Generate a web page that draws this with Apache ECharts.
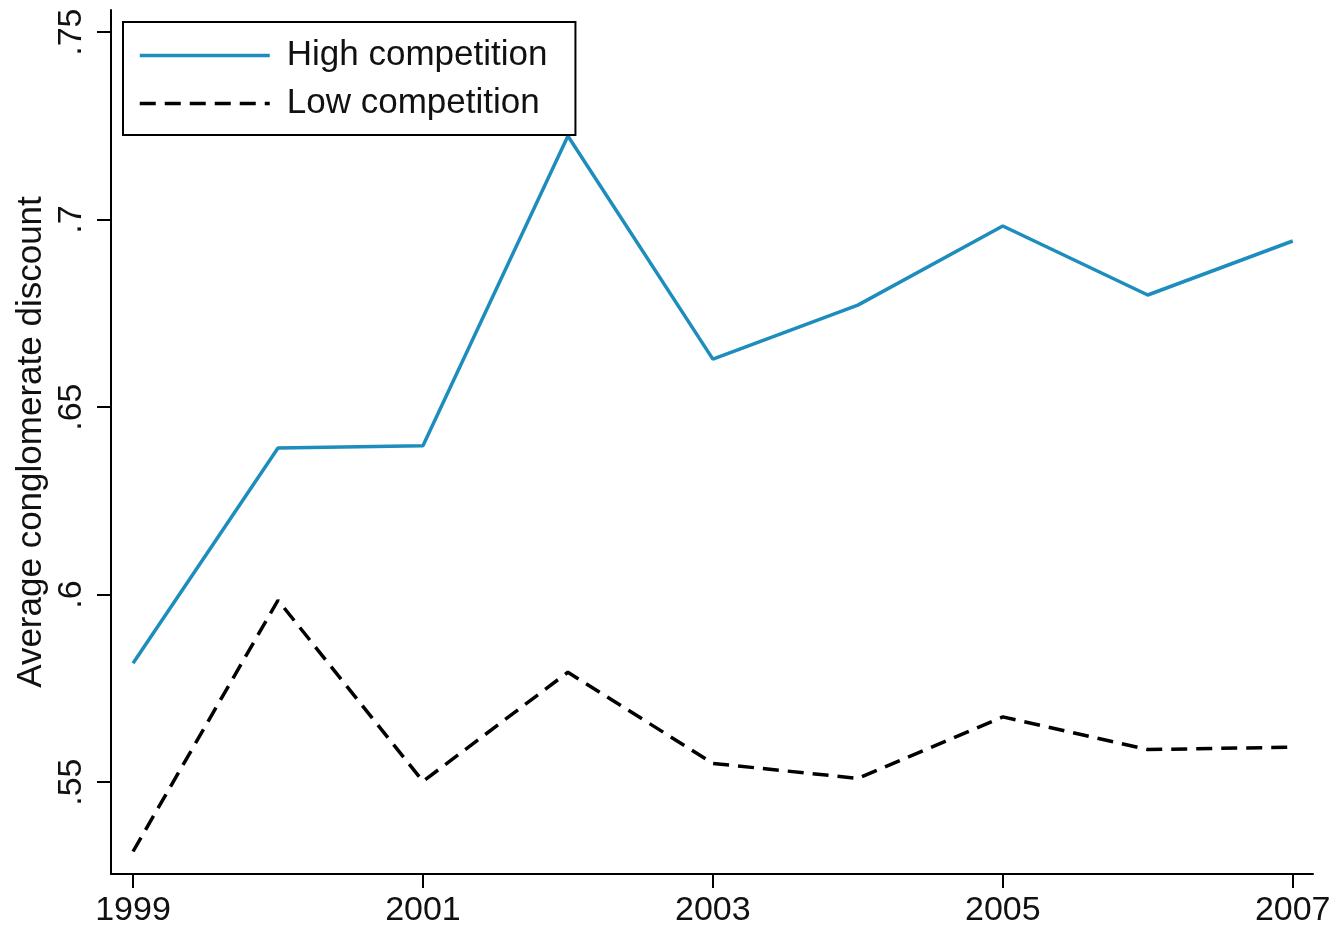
<!DOCTYPE html>
<html>
<head>
<meta charset="utf-8">
<title>Average conglomerate discount</title>
<script src="https://cdn.jsdelivr.net/npm/echarts@6/dist/echarts.min.js"></script>
<style>
    html, body { margin: 0; padding: 0; background: #fff; }
    #chart { width: 1335px; height: 927px; }
</style>
</head>
<body>
<div id="chart"></div>
<script>
    var years = [1999, 2000, 2001, 2002, 2003, 2004, 2005, 2006, 2007];
    var highCompetition = [0.5817, 0.6391, 0.6397, 0.7223, 0.6628, 0.6772, 0.6983, 0.6799, 0.6943];
    var lowCompetition = [0.5315, 0.5985, 0.5502, 0.5793, 0.5550, 0.5510, 0.5674, 0.5587, 0.5593];
    var xTicks = [1999, 2001, 2003, 2005, 2007];
    var yTicks = [0.55, 0.6, 0.65, 0.7, 0.75];

    var FONT = '"Liberation Sans", Arial, Helvetica, sans-serif';

    function pairs(vals) {
        return years.map(function(y, i) { return [y, vals[i]]; });
    }

    var chart = echarts.init(document.getElementById('chart'));

    chart.setOption({
        animation: false,
        backgroundColor: '#fff',
        textStyle: { fontFamily: FONT },
        grid: { left: 111, right: 22, top: 10, bottom: 53, containLabel: false, outerBoundsMode: 'none' },
        legend: {
            orient: 'vertical',
            left: 123,
            top: 22,
            padding: [16, 28, 14, 15],
            itemWidth: 130,
            itemHeight: 30,
            itemGap: 13,
            borderColor: '#000',
            borderWidth: 2,
            backgroundColor: '#fff',
            itemStyle: { opacity: 0 },
            lineStyle: { width: 3.5 },
            textStyle: { fontSize: 35, color: '#111', fontFamily: FONT, padding: [0, 0, 0, 12] },
            data: ['High competition', 'Low competition']
        },
        xAxis: {
            type: 'value',
            min: 1998.848,
            max: 2007.14,
            axisLine: { lineStyle: { color: '#000', width: 2 } },
            axisTick: { customValues: xTicks, length: 14, lineStyle: { color: '#000', width: 2 } },
            axisLabel: {
                customValues: xTicks,
                margin: 20,
                fontSize: 34,
                color: '#111',
                fontFamily: FONT,
                formatter: function(v) { return String(v); }
            },
            splitLine: { show: false }
        },
        yAxis: {
            type: 'value',
            min: 0.5255,
            max: 0.7559,
            name: 'Average conglomerate discount',
            nameLocation: 'middle',
            nameRotate: 90,
            nameGap: 62,
            nameMoveOverlap: false,
            nameTextStyle: { fontSize: 35, color: '#111', fontFamily: FONT },
            axisLine: { show: true, lineStyle: { color: '#000', width: 2 } },
            axisTick: { show: true, customValues: yTicks, length: 14, lineStyle: { color: '#000', width: 2 } },
            axisLabel: {
                customValues: yTicks,
                rotate: 90,
                margin: 22,
                fontSize: 34,
                color: '#111',
                fontFamily: FONT,
                formatter: function(v) { return String(+v.toFixed(2)).replace(/^0/, ''); }
            },
            splitLine: { show: false }
        },
        series: [
            {
                name: 'High competition',
                type: 'line',
                symbol: 'none',
                z: 3,
                lineStyle: { color: '#1d8dbd', width: 3.5 },
                itemStyle: { color: '#1d8dbd' },
                data: pairs(highCompetition)
            },
            {
                name: 'Low competition',
                type: 'line',
                symbol: 'none',
                z: 2,
                lineStyle: { color: '#000', width: 3.5, type: [16, 9] },
                itemStyle: { color: '#000' },
                data: pairs(lowCompetition)
            }
        ]
    });
</script>
</body>
</html>
